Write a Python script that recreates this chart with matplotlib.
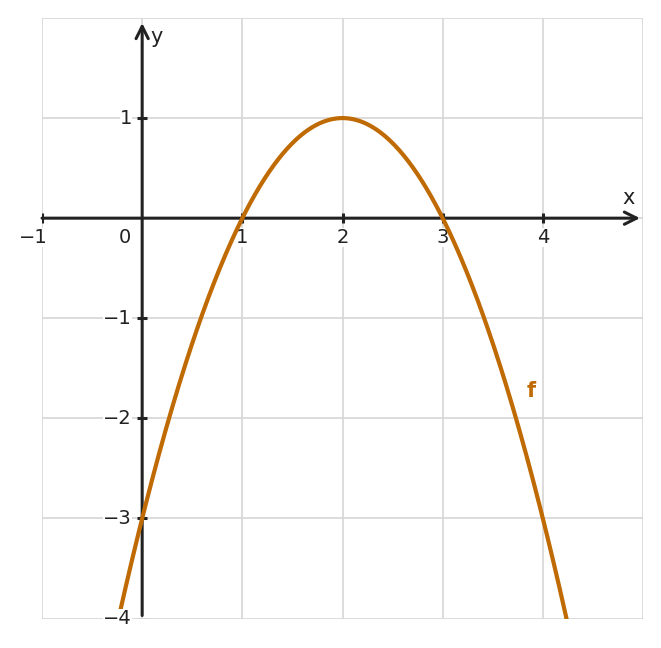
import numpy as np
import matplotlib.pyplot as plt

# f(x) = a*(x - h)**2 + k
a, h, k = -1.0, 2.0, 1.0
x_ticks = [-1, 1, 2, 3, 4]
y_ticks = [-4, -3, -2, -1, 1]
x_lim = (-1, 5)
y_lim = (-4, 2)

curve_col = '#bf6a02'
axis_col = '#222222'

fig = plt.figure(figsize=(6.61, 6.48), dpi=100)
ax = fig.add_axes([42/661, 29.5/648, 601/661, 600.5/648])
ax.set_xlim(*x_lim)
ax.set_ylim(*y_lim)
for s in ax.spines.values():
    s.set_visible(False)
ax.set_xticks(np.arange(x_lim[0], x_lim[1] + 1))
ax.set_yticks(np.arange(y_lim[0], y_lim[1] + 1))
ax.tick_params(length=0, labelbottom=False, labelleft=False)
ax.grid(True, color='#d6d6d6', lw=1.2)

# axes with arrows
ax.annotate('', xy=(4.97, 0), xytext=(-1, 0),
            arrowprops=dict(arrowstyle='->', color=axis_col, lw=2.2, mutation_scale=22,
                            shrinkA=0, shrinkB=0))
ax.annotate('', xy=(0, 1.95), xytext=(0, -3.97),
            arrowprops=dict(arrowstyle='->', color=axis_col, lw=2.2, mutation_scale=22,
                            shrinkA=0, shrinkB=0))

# tick marks
for t in x_ticks:
    ax.plot([t, t], [-0.05, 0.05], color=axis_col, lw=2.2, solid_capstyle='butt')
for t in y_ticks:
    c = '#d6d6d6' if t == -4 else axis_col
    ax.plot([-0.05, 0.05], [t, t], color=c, lw=2.2, solid_capstyle='butt')

box = dict(facecolor='white', edgecolor='none', pad=0)
for t in x_ticks:
    lbl = '\u2212' + str(-t) if t < 0 else str(t)
    xx = t - 0.09 if t < 0 else t
    ax.text(xx, -0.19, lbl, ha='center', va='center',
            fontsize=14, color=axis_col, bbox=box)
ax.text(-0.17, -0.19, '0', ha='center', va='center', fontsize=14, color=axis_col)
for t in y_ticks:
    ax.text(-0.1, t, '\u2212' + str(-t) if t < 0 else str(t), ha='right', va='center',
            fontsize=14, color=axis_col, bbox=box, zorder=5)
ax.text(4.86, 0.2, 'x', ha='center', va='center', fontsize=15, color=axis_col)
ax.text(0.14, 1.81, 'y', ha='center', va='center', fontsize=15, color=axis_col)

x = np.linspace(h - np.sqrt(5.0), h + np.sqrt(5.0), 400)
y = a * (x - h) ** 2 + k
ax.plot(x, y, color=curve_col, lw=3, zorder=4)
ax.text(3.88, -1.73, 'f', ha='center', va='center', fontsize=15, fontweight='bold',
        color=curve_col)

fig.savefig('out.png', dpi=100)
